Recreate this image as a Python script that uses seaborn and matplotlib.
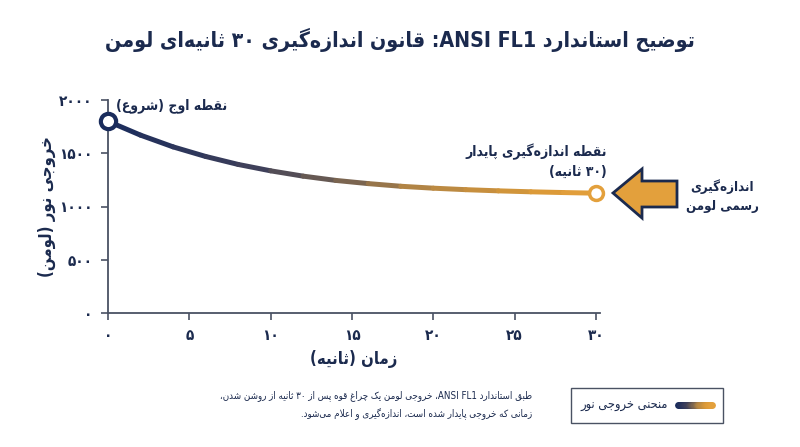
import re
import matplotlib
matplotlib.use('Agg')
import matplotlib.pyplot as plt
import seaborn as sns
import numpy as np
from matplotlib.collections import LineCollection
from matplotlib.colors import LinearSegmentedColormap
from matplotlib.patches import Polygon, Rectangle

# ---- data ----
seconds = [0, 2, 4, 6, 8, 10, 12, 14, 16, 18, 20, 22, 24, 26, 28, 30]
lumens = [1800, 1670, 1560, 1470, 1395, 1335, 1285, 1245, 1215, 1190,
          1172, 1158, 1147, 1138, 1131, 1125]
x_ticks = [0, 5, 10, 15, 20, 25, 30]
y_ticks = [0, 500, 1000, 1500, 2000]

title = 'توضیح استاندارد ANSI FL1: قانون اندازه\u200cگیری ۳۰ ثانیه\u200cای لومن'
x_label = 'زمان (ثانیه)'
y_label = 'خروجی نور (لومن)'
peak_label = 'نقطه اوج (شروع)'
steady_label = ['نقطه اندازه\u200cگیری پایدار', '(۳۰ ثانیه)']
arrow_label = ['اندازه\u200cگیری', 'رسمی لومن']
legend_label = 'منحنی خروجی نور'
footer = ['طبق استاندارد ANSI FL1، خروجی لومن یک چراغ قوه پس از ۳۰ ثانیه از روشن شدن،',
          'زمانی که خروجی پایدار شده است، اندازه\u200cگیری و اعلام می\u200cشود.']

NAVY = '#1b2a4e'
ORANGE = '#e3a03c'
SPINE = '#4a5263'

# ---- minimal Persian shaping + bidi (matplotlib has no text shaping) ----
FORMS = {
    'ا': 'ﺍﺎ', 'آ': 'ﺁﺂ', 'أ': 'ﺃﺄ', 'إ': 'ﺇﺈ', 'ب': 'ﺏﺐﺑﺒ', 'پ': 'ﭖﭗﭘﭙ',
    'ت': 'ﺕﺖﺗﺘ', 'ث': 'ﺙﺚﺛﺜ', 'ج': 'ﺝﺞﺟﺠ', 'چ': 'ﭺﭻﭼﭽ', 'ح': 'ﺡﺢﺣﺤ',
    'خ': 'ﺥﺦﺧﺨ', 'د': 'ﺩﺪ', 'ذ': 'ﺫﺬ', 'ر': 'ﺭﺮ', 'ز': 'ﺯﺰ', 'ژ': 'ﮊﮋ',
    'س': 'ﺱﺲﺳﺴ', 'ش': 'ﺵﺶﺷﺸ', 'ص': 'ﺹﺺﺻﺼ', 'ض': 'ﺽﺾﺿﻀ', 'ط': 'ﻁﻂﻃﻄ',
    'ظ': 'ﻅﻆﻇﻈ', 'ع': 'ﻉﻊﻋﻌ', 'غ': 'ﻍﻎﻏﻐ', 'ف': 'ﻑﻒﻓﻔ', 'ق': 'ﻕﻖﻗﻘ',
    'ک': 'ﮎﮏﮐﮑ', 'گ': 'ﮒﮓﮔﮕ', 'ل': 'ﻝﻞﻟﻠ', 'م': 'ﻡﻢﻣﻤ', 'ن': 'ﻥﻦﻧﻨ',
    'و': 'ﻭﻮ', 'ه': 'ﻩﻪﻫﻬ', 'ی': 'ﯼﯽﯾﯿ', 'ئ': 'ﺉﺊﺋﺌ', 'ء': 'ﺀ',
}
LAM_ALEF = {'ا': 'ﻻﻼ', 'آ': 'ﻵﻶ', 'أ': 'ﻷﻸ', 'إ': 'ﻹﻺ'}


def shape(s):
    res = []
    i, n = 0, len(s)
    while i < n:
        c = s[i]
        if c not in FORMS:
            if c != '\u200c':
                res.append(c)
            i += 1
            continue
        prev = s[i - 1] if i > 0 else ''
        link_prev = prev in FORMS and len(FORMS[prev]) == 4
        if c == 'ل' and i + 1 < n and s[i + 1] in LAM_ALEF:
            res.append(LAM_ALEF[s[i + 1]][1 if link_prev else 0])
            i += 2
            continue
        nxt = s[i + 1] if i + 1 < n else ''
        f = FORMS[c]
        link_next = len(f) == 4 and nxt in FORMS and len(FORMS[nxt]) > 1
        if len(f) == 1:
            g = f[0]
        elif link_prev and link_next:
            g = f[3]
        elif link_prev:
            g = f[1]
        elif link_next:
            g = f[2]
        else:
            g = f[0]
        res.append(g)
        i += 1
    return ''.join(res)


def fa(s):
    t = shape(s)[::-1]
    t = re.sub(r'[A-Za-z0-9\u06F0-\u06F9]+(?:[ .][A-Za-z0-9\u06F0-\u06F9]+)*',
               lambda m: m.group(0)[::-1], t)
    return t.translate(str.maketrans('()', ')('))


def fa_lines(lines):
    return '\n'.join(fa(l) for l in lines)


def fa_num(v):
    return str(v).translate(str.maketrans('0123456789', '۰۱۲۳۴۵۶۷۸۹'))


sns.set_theme(style='white')
plt.rcParams['font.family'] = ['DejaVu Sans']
plt.rcParams['font.stretch'] = 'condensed'

fig = plt.figure(figsize=(8, 4.47), dpi=100)
ax = fig.add_axes([108 / 800, 1 - 313 / 447, 492 / 800, 213 / 447])

# thin base line through seaborn, fully covered by the colour gradient
sns.lineplot(x=seconds, y=lumens, ax=ax, color=NAVY, lw=1.5, zorder=1)
pts = np.column_stack([seconds, lumens]).reshape(-1, 1, 2)
segs = np.concatenate([pts[:-1], pts[1:]], axis=1)
cmap = LinearSegmentedColormap.from_list(
    'glow', [(0, '#1a2c5c'), (0.29, '#3d3f5a'), (0.5, '#7a6550'),
             (0.63, '#b08445'), (0.9, '#dc9a38'), (1, ORANGE)])
lc = LineCollection(segs, cmap=cmap, linewidths=3.6, capstyle='round',
                    joinstyle='round', zorder=3)
lc.set_array(np.array(seconds[:-1]) + 1)
lc.set_clim(0, 30)
ax.add_collection(lc)

ax.plot(seconds[0], lumens[0], 'o', ms=11, mfc='white', mec='#1a2c5c',
        mew=3, zorder=5, clip_on=False)
ax.plot(seconds[-1], lumens[-1], 'o', ms=10, mfc='white', mec=ORANGE,
        mew=2.5, zorder=5, clip_on=False)

ax.set_xlim(0, 30.25)
ax.set_ylim(0, 2000)
ax.set_xticks(x_ticks)
ax.set_yticks(y_ticks)
ax.set_xticklabels([fa_num(v) for v in x_ticks], fontsize=11,
                   fontweight='bold', color=NAVY)
ax.set_yticklabels([fa_num(v) for v in y_ticks], fontsize=11,
                   fontweight='bold', color=NAVY)
ax.tick_params(axis='both', length=5, width=1.2, color=SPINE, pad=6,
               direction='out', bottom=True, left=True)
for side in ['top', 'right']:
    ax.spines[side].set_visible(False)
for side in ['left', 'bottom']:
    ax.spines[side].set_color(SPINE)
    ax.spines[side].set_linewidth(1.3)
ax.set_xlabel(fa(x_label), fontsize=12, fontweight='bold', color=NAVY,
              labelpad=5)
ax.set_ylabel(fa(y_label), fontsize=12, fontweight='bold', color=NAVY,
              labelpad=2)

ax.annotate(fa(peak_label), (seconds[0], lumens[0]), xytext=(6, 11),
            textcoords='offset points', fontsize=10, fontweight='bold',
            color=NAVY, ha='left', va='center')
ax.annotate(fa_lines(steady_label), (seconds[-1], lumens[-1]),
            xytext=(8, 10), textcoords='offset points', fontsize=10,
            fontweight='bold', color=NAVY, ha='right', va='bottom',
            multialignment='right', linespacing=1.5)

# overlay in pixel coordinates for the decorations
ov = fig.add_axes([0, 0, 1, 1], facecolor='none')
ov.set_xlim(0, 800)
ov.set_ylim(447, 0)
ov.axis('off')

arrow = [(613, 193), (642, 169), (642, 181), (677, 181), (677, 207),
         (642, 207), (642, 218)]
ov.add_patch(Polygon(arrow, closed=True, fc=ORANGE, ec=NAVY, lw=2,
                     joinstyle='miter'))
ov.text(722, 196, fa_lines(arrow_label), fontsize=9.5, fontweight='bold',
        color=NAVY, ha='center', va='center', multialignment='center',
        linespacing=1.6)

ov.text(400, 40, fa(title), fontsize=15.3, fontweight='bold', color=NAVY,
        ha='center', va='center')

ov.text(532, 405, fa_lines(footer), fontsize=7, color=NAVY, ha='right',
        va='center', multialignment='right', linespacing=1.8)

ov.add_patch(Rectangle((571, 388), 152, 35, fc='white', ec=SPINE, lw=1))
lx = np.linspace(678, 712, 30)
lpts = np.column_stack([lx, np.full_like(lx, 405)]).reshape(-1, 1, 2)
leg = LineCollection(np.concatenate([lpts[:-1], lpts[1:]], axis=1),
                     cmap=cmap, linewidths=5, capstyle='round')
leg.set_array(np.linspace(0, 1, 29))
ov.add_collection(leg)
ov.text(668, 405, fa(legend_label), fontsize=9.2, color=NAVY, ha='right',
        va='center')

fig.savefig('out.png', dpi=100, facecolor='white')
